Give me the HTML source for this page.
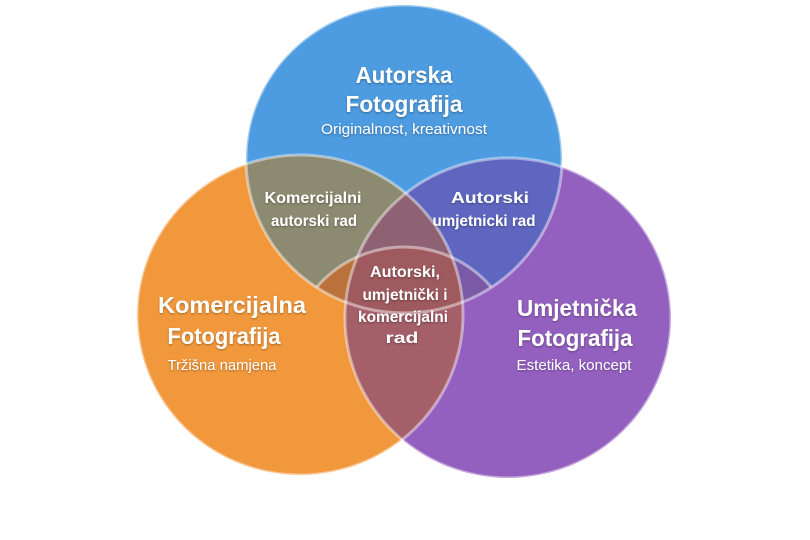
<!DOCTYPE html>
<html><head><meta charset="utf-8"><style>
html,body{margin:0;padding:0;background:#fff;}
svg{display:block}
text{font-family:"Liberation Sans",sans-serif;fill:#fff;text-anchor:middle}
.t{font-weight:bold;font-size:23px}
.s{font-size:15px}
.m{font-weight:bold;font-size:16px}
</style></head><body>
<svg width="810" height="540" viewBox="0 0 810 540" xmlns="http://www.w3.org/2000/svg">
<defs>
<clipPath id="cb"><ellipse cx="404" cy="159" rx="158" ry="154"/></clipPath>
<clipPath id="co"><ellipse cx="300" cy="315" rx="163" ry="160"/></clipPath>
<clipPath id="cp"><ellipse cx="508" cy="318" rx="163" ry="160"/></clipPath>
<clipPath id="cc"><circle cx="404" cy="362" r="115"/></clipPath>
<filter id="sh"><feDropShadow dx="0" dy="1" stdDeviation="1" flood-color="#000" flood-opacity="0.35"/></filter>
</defs>
<ellipse cx="300" cy="315" rx="163" ry="160" fill="#f2983c"/>
<ellipse cx="508" cy="318" rx="163" ry="160" fill="#9460c0"/>
<ellipse cx="404" cy="159" rx="158" ry="154" fill="#4d9be0"/>
<g clip-path="url(#cb)"><ellipse cx="300" cy="315" rx="163" ry="160" fill="#8c8a70"/><ellipse cx="508" cy="318" rx="163" ry="160" fill="#5f66c0"/></g>
<g clip-path="url(#co)"><ellipse cx="508" cy="318" rx="163" ry="160" fill="#a45f68"/></g>
<g clip-path="url(#co)"><g clip-path="url(#cp)"><ellipse cx="404" cy="159" rx="158" ry="154" fill="#8e6272"/></g></g>
<g clip-path="url(#cb)"><g clip-path="url(#cc)">
<ellipse cx="300" cy="315" rx="163" ry="160" fill="#bb713c"/>
<ellipse cx="508" cy="318" rx="163" ry="160" fill="#7a5aa6"/>
<g clip-path="url(#co)"><ellipse cx="508" cy="318" rx="163" ry="160" fill="#9e5a5e"/></g>
</g></g>
<g fill="none" stroke="#fff" stroke-opacity="0.45" stroke-width="3">
<ellipse cx="300" cy="315" rx="163" ry="160"/>
<ellipse cx="508" cy="318" rx="163" ry="160"/>
<ellipse cx="404" cy="159" rx="158" ry="154"/>
<g clip-path="url(#cb)"><circle cx="404" cy="362" r="115"/></g>
</g>
<g filter="url(#sh)">
<text class="t" x="404" y="83" textLength="97" lengthAdjust="spacingAndGlyphs">Autorska</text>
<text class="t" x="404" y="112" textLength="117" lengthAdjust="spacingAndGlyphs">Fotografija</text>
<text class="s" x="404" y="134" textLength="166" lengthAdjust="spacingAndGlyphs">Originalnost, kreativnost</text>
<text class="t" x="232" y="313" textLength="148" lengthAdjust="spacingAndGlyphs">Komercijalna</text>
<text class="t" x="224" y="344" textLength="113" lengthAdjust="spacingAndGlyphs">Fotografija</text>
<text class="s" x="222" y="370" textLength="109" lengthAdjust="spacingAndGlyphs">Tržišna namjena</text>
<text class="t" x="577" y="316" textLength="120" lengthAdjust="spacingAndGlyphs">Umjetnička</text>
<text class="t" x="575" y="346" textLength="115" lengthAdjust="spacingAndGlyphs">Fotografija</text>
<text class="s" x="574" y="370" textLength="115" lengthAdjust="spacingAndGlyphs">Estetika, koncept</text>
<text class="m" x="313" y="203" textLength="97" lengthAdjust="spacingAndGlyphs">Komercijalni</text>
<text class="m" x="314" y="226" textLength="86" lengthAdjust="spacingAndGlyphs">autorski rad</text>
<text class="m" x="490" y="203" textLength="78" lengthAdjust="spacingAndGlyphs">Autorski</text>
<text class="m" x="484" y="226" textLength="103" lengthAdjust="spacingAndGlyphs">umjetnicki rad</text>
<text class="m" x="405" y="277" textLength="70" lengthAdjust="spacingAndGlyphs">Autorski,</text>
<text class="m" x="405" y="300" textLength="85" lengthAdjust="spacingAndGlyphs">umjetnički i</text>
<text class="m" x="403" y="322" textLength="90" lengthAdjust="spacingAndGlyphs">komercijalni</text>
<text class="m" x="402" y="343" textLength="33" lengthAdjust="spacingAndGlyphs">rad</text>
</g>
</svg>
</body></html>
